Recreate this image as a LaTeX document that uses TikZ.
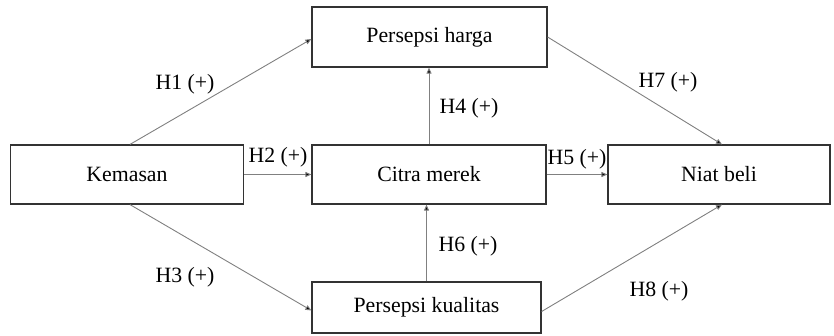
\documentclass[tikz,border=0pt]{standalone}
\usepackage{fontspec}
\setmainfont{Liberation Serif}
\usetikzlibrary{arrows.meta,positioning}
\begin{document}
\begin{tikzpicture}[x=1pt,y=-1pt,
  box/.style={draw=black!80,line width=1.2pt,rectangle,inner sep=0pt,font=\fontsize{21.8}{26}\selectfont},
  conn/.style={draw=black!50,line width=0.9pt,-{Triangle[length=6pt,width=5pt,fill=black]}},
  lab/.style={font=\fontsize{21.8}{26}\selectfont,inner sep=0pt}]
\useasboundingbox (0,0) rectangle (834,335);
\node[box,minimum width=233pt,minimum height=59pt] (kem) at (127,174.5) {Kemasan};
\node[box,minimum width=234pt,minimum height=59pt] (cit) at (429,174.5) {Citra merek};
\node[box,minimum width=222pt,minimum height=59pt] (niat) at (719,174.5) {Niat beli};
\node[box,minimum width=235pt,minimum height=60pt] (harga) at (429.5,37) {Persepsi harga};
\node[box,minimum width=229pt,minimum height=51pt] (kual) at (426.5,307.5) {Persepsi kualitas};
\draw[conn] ([xshift=3pt]kem.north) -- ([yshift=-2pt]harga.west);
\draw[conn] ([xshift=3pt]kem.south) -- ([yshift=-3pt]kual.west);
\draw[conn] (kem.east) -- (cit.west);
\draw[conn] (cit.east) -- (niat.west);
\draw[conn] (cit.north) -- (cit.north |- harga.south);
\draw[conn] (kual.north) -- (kual.north |- cit.south);
\draw[conn] (harga.east) -- ([xshift=3pt]niat.north);
\draw[conn] ([yshift=-4pt]kual.east) -- ([xshift=3pt]niat.south);
\node[lab] (l1) at (185,84) {H1 (+)};
\node[lab] (l2) at (278,157) {H2 (+)};
\node[lab] (l3) at (185,277) {H3 (+)};
\node[lab] (l4) at (469,108) {H4 (+)};
\node[lab] (l5) at (577,159) {H5 (+)};
\node[lab] (l6) at (468,246) {H6 (+)};
\node[lab] (l7) at (668,82) {H7 (+)};
\node[lab] (l8) at (659,291) {H8 (+)};
\end{tikzpicture}
\end{document}
